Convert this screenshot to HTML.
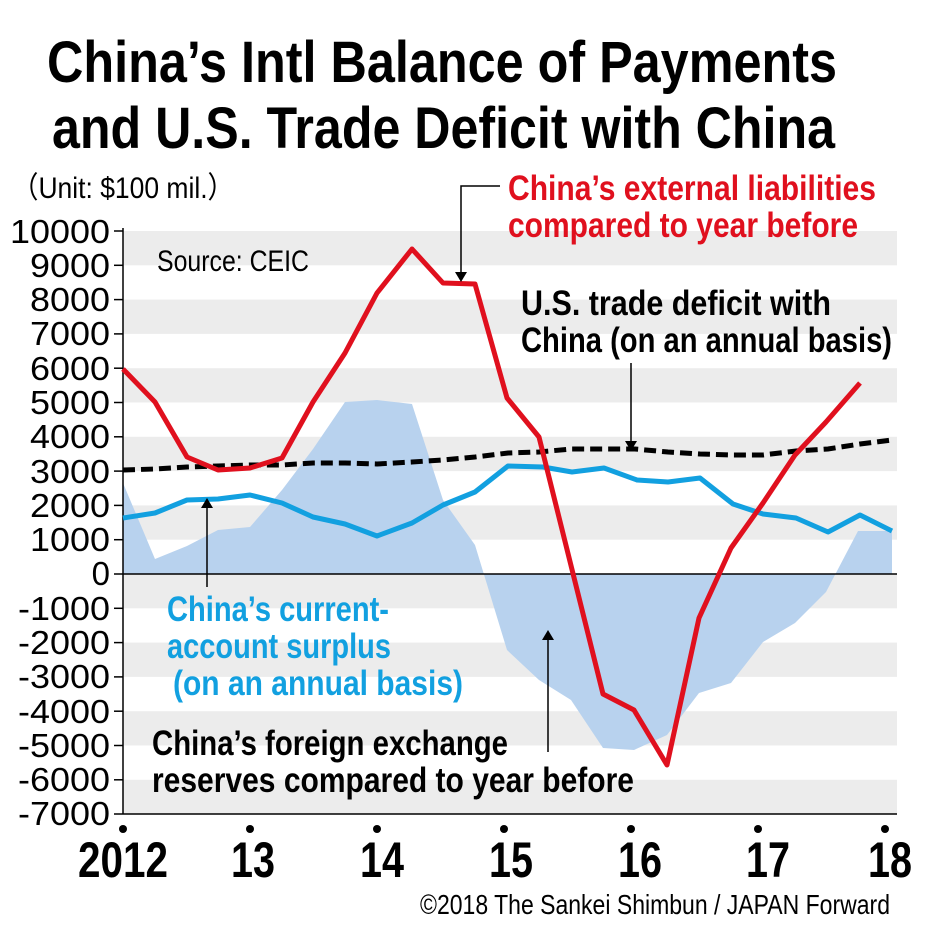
<!DOCTYPE html>
<html><head><meta charset="utf-8"><style>
body{margin:0;background:#fff}
svg{display:block}
.n{font-family:"Liberation Sans Narrow","Liberation Sans",sans-serif}
</style></head><body>
<svg width="927" height="938" viewBox="0 0 927 938" xmlns="http://www.w3.org/2000/svg">
<g class="n" font-weight="bold" fill="#000">
<text x="47" y="82" font-size="58" textLength="790" lengthAdjust="spacingAndGlyphs">China’s Intl Balance of Payments</text>
<text x="52" y="148" font-size="58" textLength="783" lengthAdjust="spacingAndGlyphs">and U.S. Trade Deficit with China</text>
</g>
<text x="12" y="198" class="n" font-size="30" textLength="222" lengthAdjust="spacingAndGlyphs">（Unit: $100 mil.）</text>
<g fill="#ececec">
<rect x="123" y="231" width="774" height="34.3"/>
<rect x="123" y="299.6" width="774" height="34.3"/>
<rect x="123" y="368.2" width="774" height="34.3"/>
<rect x="123" y="436.8" width="774" height="34.3"/>
<rect x="123" y="505.4" width="774" height="34.3"/>
<rect x="123" y="574" width="774" height="34.3"/>
<rect x="123" y="642.6" width="774" height="34.3"/>
<rect x="123" y="711.2" width="774" height="34.3"/>
<rect x="123" y="779.8" width="774" height="34.3"/>
</g>
<polygon fill="#b8d2ee" points="123,574 123,483 155,559 187,546 218,530 250,527 282,490 313,449 345,402 377,400 412,404 443,500 475,545 507,650 539,680 571,700 603,748 634,750 667,735 699,693 731,683 763,642 795,623 826,592 858,531 892,531 892,574"/>
<line x1="123" y1="574" x2="897" y2="574" stroke="#000" stroke-width="1.5"/>
<line x1="123" y1="228" x2="123" y2="814" stroke="#000" stroke-width="1.5"/>
<line x1="123" y1="814" x2="897" y2="814" stroke="#000" stroke-width="1.5"/>
<g stroke="#000" stroke-width="1.5">
<line x1="114" y1="231" x2="123" y2="231"/><line x1="114" y1="265.3" x2="123" y2="265.3"/><line x1="114" y1="299.6" x2="123" y2="299.6"/><line x1="114" y1="333.9" x2="123" y2="333.9"/><line x1="114" y1="368.2" x2="123" y2="368.2"/><line x1="114" y1="402.5" x2="123" y2="402.5"/><line x1="114" y1="436.8" x2="123" y2="436.8"/><line x1="114" y1="471.1" x2="123" y2="471.1"/><line x1="114" y1="505.4" x2="123" y2="505.4"/><line x1="114" y1="539.7" x2="123" y2="539.7"/><line x1="114" y1="574" x2="123" y2="574"/><line x1="114" y1="608.3" x2="123" y2="608.3"/><line x1="114" y1="642.6" x2="123" y2="642.6"/><line x1="114" y1="676.9" x2="123" y2="676.9"/><line x1="114" y1="711.2" x2="123" y2="711.2"/><line x1="114" y1="745.5" x2="123" y2="745.5"/><line x1="114" y1="779.8" x2="123" y2="779.8"/><line x1="114" y1="814" x2="123" y2="814"/>
</g>
<g font-family="Liberation Sans,sans-serif" font-size="33" text-anchor="end" fill="#000">
<text x="110" y="243" textLength="100" lengthAdjust="spacingAndGlyphs">10000</text>
<text x="110" y="277" textLength="80" lengthAdjust="spacingAndGlyphs">9000</text><text x="110" y="311" textLength="80" lengthAdjust="spacingAndGlyphs">8000</text><text x="110" y="345" textLength="80" lengthAdjust="spacingAndGlyphs">7000</text><text x="110" y="380" textLength="80" lengthAdjust="spacingAndGlyphs">6000</text><text x="110" y="414" textLength="80" lengthAdjust="spacingAndGlyphs">5000</text><text x="110" y="448" textLength="80" lengthAdjust="spacingAndGlyphs">4000</text><text x="110" y="483" textLength="80" lengthAdjust="spacingAndGlyphs">3000</text><text x="110" y="517" textLength="80" lengthAdjust="spacingAndGlyphs">2000</text><text x="110" y="551" textLength="80" lengthAdjust="spacingAndGlyphs">1000</text><text x="110" y="585">0</text>
<text x="110" y="620" textLength="92" lengthAdjust="spacingAndGlyphs">-1000</text><text x="110" y="654" textLength="92" lengthAdjust="spacingAndGlyphs">-2000</text><text x="110" y="688" textLength="92" lengthAdjust="spacingAndGlyphs">-3000</text><text x="110" y="723" textLength="92" lengthAdjust="spacingAndGlyphs">-4000</text><text x="110" y="757" textLength="92" lengthAdjust="spacingAndGlyphs">-5000</text><text x="110" y="791" textLength="92" lengthAdjust="spacingAndGlyphs">-6000</text><text x="110" y="825" textLength="92" lengthAdjust="spacingAndGlyphs">-7000</text>
</g>
<g fill="#000"><circle cx="123" cy="829" r="4"/><circle cx="250" cy="829" r="4"/><circle cx="377" cy="829" r="4"/><circle cx="504" cy="829" r="4"/><circle cx="631" cy="829" r="4"/><circle cx="758" cy="829" r="4"/><circle cx="885" cy="829" r="4"/></g>
<g class="n" font-weight="bold" font-size="50" text-anchor="middle" fill="#000">
<text x="123" y="877" textLength="90" lengthAdjust="spacingAndGlyphs">2012</text><text x="253" y="877" textLength="44" lengthAdjust="spacingAndGlyphs">13</text><text x="382" y="877" textLength="44" lengthAdjust="spacingAndGlyphs">14</text><text x="511" y="877" textLength="44" lengthAdjust="spacingAndGlyphs">15</text><text x="640" y="877" textLength="44" lengthAdjust="spacingAndGlyphs">16</text><text x="768" y="877" textLength="44" lengthAdjust="spacingAndGlyphs">17</text><text x="890" y="877" textLength="44" lengthAdjust="spacingAndGlyphs">18</text>
</g>
<text x="890" y="914" class="n" font-size="28" text-anchor="end" textLength="470" lengthAdjust="spacingAndGlyphs">©2018 The Sankei Shimbun / JAPAN Forward</text>
<text x="157" y="271" class="n" font-size="30" textLength="152" lengthAdjust="spacingAndGlyphs">Source: CEIC</text>
<polyline fill="none" stroke="#000" stroke-width="5" stroke-dasharray="12,6" points="123,470 155,469 187,467 218,466 250,465 282,465 313,463 345,463 377,464 412,462 443,460 475,457 508,453 539,452 571,449 604,449 635,449 668,452 700,454 733,455 763,455 796,451 828,449 860,444 892,440"/>
<polyline fill="none" stroke="#12a0e0" stroke-width="5" stroke-linejoin="round" points="123,518 155,513 187,500 218,499 250,495 282,503 313,517 345,524 377,536 412,523 443,505 475,492 508,466 543,467 572,472 604,468 637,480 668,482 700,478 733,504 763,514 796,518 828,532 860,515 892,531"/>
<polyline fill="none" stroke="#e0101e" stroke-width="5" stroke-linejoin="round" points="123,369 155,402 187,457 218,470 250,468 282,458 313,402 345,353 377,293 412,249 443,283 475,284 507,398 539,437 603,694 634,710 667,765 699,618 731,548 763,503 795,455 826,422 860,383"/>
<g stroke="#000" stroke-width="1.5" fill="none">
<polyline points="500,186 461,186 461,276"/>
<line x1="631" y1="363" x2="631" y2="445"/>
<line x1="207" y1="505" x2="207" y2="587"/>
<line x1="548" y1="752" x2="548" y2="636"/>
</g>
<g fill="#000">
<polygon points="455,272 461,282 467,272"/>
<polygon points="625,441 631,451 637,441"/>
<polygon points="201,508 207,498 213,508"/>
<polygon points="542,640 548,630 554,640"/>
</g>
<g class="n" font-weight="bold" font-size="35">
<text x="508" y="200" fill="#e0101e" textLength="368" lengthAdjust="spacingAndGlyphs">China’s external liabilities</text>
<text x="508" y="237" fill="#e0101e" textLength="350" lengthAdjust="spacingAndGlyphs">compared to year before</text>
<text x="521" y="315" fill="#000" textLength="310" lengthAdjust="spacingAndGlyphs">U.S. trade deficit with</text>
<text x="521" y="352" fill="#000" textLength="371" lengthAdjust="spacingAndGlyphs">China (on an annual basis)</text>
<text x="167" y="621" fill="#12a0e0" textLength="222" lengthAdjust="spacingAndGlyphs">China’s current-</text>
<text x="167" y="658" fill="#12a0e0" textLength="224" lengthAdjust="spacingAndGlyphs">account surplus</text>
<text x="173" y="695" fill="#12a0e0" textLength="290" lengthAdjust="spacingAndGlyphs">(on an annual basis)</text>
<text x="152" y="755" fill="#000" textLength="356" lengthAdjust="spacingAndGlyphs">China’s foreign exchange</text>
<text x="152" y="792" fill="#000" textLength="482" lengthAdjust="spacingAndGlyphs">reserves compared to year before</text>
</g>
</svg>
</body></html>
